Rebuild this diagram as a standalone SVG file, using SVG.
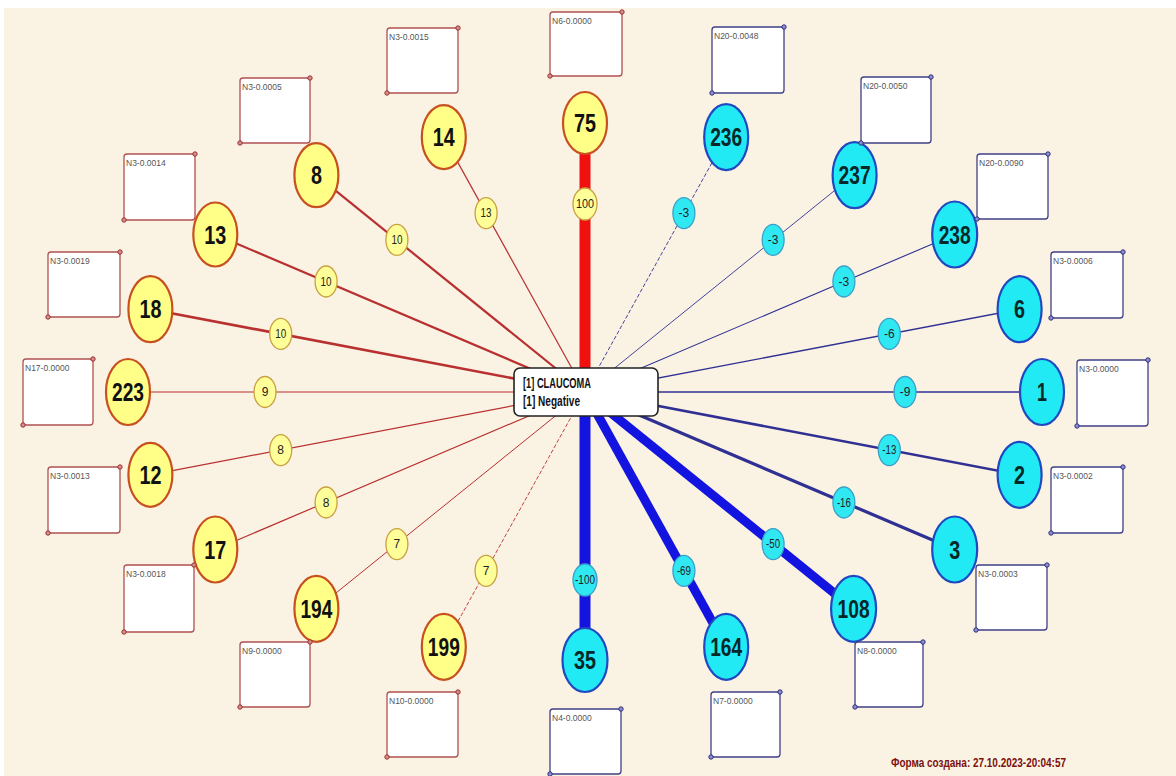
<svg xmlns="http://www.w3.org/2000/svg" width="1176" height="776" viewBox="0 0 1176 776">
<style>
.ln{fill:none;stroke:#B83030}
.lb{fill:none;stroke:#303094}
.lbt{fill:none;stroke:#1414E0}
.ny{fill:#FFFF88;stroke:#C8501E;stroke-width:2.2}
.nc{fill:#22EAF4;stroke:#2048C0;stroke-width:2.2}
.sy{fill:#FFFF99;stroke:#C8A040;stroke-width:1.3}
.sc{fill:#30E8F2;stroke:#3AA0C8;stroke-width:1.3}
.big{font-family:"Liberation Sans Narrow","Liberation Sans",Arial,sans-serif;font-weight:bold;font-size:25px;text-anchor:middle;fill:#111}
.bigc{fill:#062828}
.sm{font-family:"Liberation Sans Narrow","Liberation Sans",Arial,sans-serif;font-size:12px;text-anchor:middle;fill:#222}
.bxr{fill:#FFFFFF;stroke:#B05050;stroke-width:1.3}
.bxb{fill:#FFFFFF;stroke:#404088;stroke-width:1.3}
.dr{fill:#D09090;stroke:#A03030;stroke-width:1}
.db{fill:#9090D0;stroke:#303080;stroke-width:1}
.bt{font-family:"Liberation Sans",Arial,sans-serif;font-size:8.5px;fill:#555}
.ct{font-family:"Liberation Sans Narrow","Liberation Sans",Arial,sans-serif;font-weight:bold;font-size:14px;fill:#111}
</style>
<rect x="0" y="0" width="1176" height="776" fill="#FFFFFF"/>
<rect x="4" y="8" width="1172" height="768" fill="#FAF3E3"/>

<g id="connectors">
<line class="ln" x1="585" y1="392" x2="443.8" y2="137.1" stroke-width="1.2"/>
<line class="ln" x1="585" y1="392" x2="316.4" y2="175.2" stroke-width="2.2"/>
<line class="ln" x1="585" y1="392" x2="215.3" y2="234.5" stroke-width="2.2"/>
<line class="ln" x1="585" y1="392" x2="150.4" y2="309.2" stroke-width="2.6"/>
<line class="ln" x1="585" y1="392" x2="128" y2="392" stroke-width="1.2"/>
<line class="ln" x1="585" y1="392" x2="150.4" y2="474.8" stroke-width="1.2"/>
<line class="ln" x1="585" y1="392" x2="215.3" y2="549.5" stroke-width="1.2"/>
<line class="ln" x1="585" y1="392" x2="316.4" y2="608.8" stroke-width="1"/>
<line class="ln" x1="585" y1="392" x2="443.8" y2="646.9" stroke-width="0.9" stroke-dasharray="4 2"/>
<line x1="585" y1="392" x2="585" y2="124" stroke="#F01010" stroke-width="11"/>
<line class="lb" x1="585" y1="392" x2="726.2" y2="137.1" stroke-width="0.9" stroke-dasharray="4 2"/>
<line class="lb" x1="585" y1="392" x2="853.6" y2="175.2" stroke-width="0.9"/>
<line class="lb" x1="585" y1="392" x2="954.7" y2="234.5" stroke-width="1.1"/>
<line class="lb" x1="585" y1="392" x2="1019.6" y2="309.2" stroke-width="1.4"/>
<line class="lb" x1="585" y1="392" x2="1042" y2="392" stroke-width="1.6"/>
<line class="lb" x1="585" y1="392" x2="1019.6" y2="474.8" stroke-width="2.6" stroke="#2626A8"/>
<line class="lb" x1="585" y1="392" x2="954.7" y2="549.5" stroke-width="3.2" stroke="#2020A8"/>
<line class="lbt" x1="585" y1="392" x2="853.6" y2="608.8" stroke-width="9"/>
<line class="lbt" x1="585" y1="392" x2="726.2" y2="646.9" stroke-width="9"/>
<line class="lbt" x1="585" y1="392" x2="585" y2="660" stroke-width="11"/>
</g>

<g id="weights">
<ellipse class="sy" cx="585" cy="204" rx="12" ry="16"/><text class="sm" x="585" y="208" textLength="18" lengthAdjust="spacingAndGlyphs">100</text>
<ellipse class="sy" cx="486.1" cy="213.2" rx="11" ry="15.5"/><text class="sm" x="486.1" y="217.2" textLength="11" lengthAdjust="spacingAndGlyphs">13</text>
<ellipse class="sy" cx="396.9" cy="239.9" rx="11" ry="15.5"/><text class="sm" x="396.9" y="243.9" textLength="11" lengthAdjust="spacingAndGlyphs">10</text>
<ellipse class="sy" cx="326.1" cy="281.5" rx="11" ry="15.5"/><text class="sm" x="326.1" y="285.5" textLength="11" lengthAdjust="spacingAndGlyphs">10</text>
<ellipse class="sy" cx="280.7" cy="333.9" rx="11" ry="15.5"/><text class="sm" x="280.7" y="337.9" textLength="11" lengthAdjust="spacingAndGlyphs">10</text>
<ellipse class="sy" cx="265" cy="392" rx="11" ry="15.5"/><text class="sm" x="265" y="396">9</text>
<ellipse class="sy" cx="280.7" cy="450.1" rx="11" ry="15.5"/><text class="sm" x="280.7" y="454.1">8</text>
<ellipse class="sy" cx="326.1" cy="502.5" rx="11" ry="15.5"/><text class="sm" x="326.1" y="506.5">8</text>
<ellipse class="sy" cx="396.9" cy="544.1" rx="11" ry="15.5"/><text class="sm" x="396.9" y="548.1">7</text>
<ellipse class="sy" cx="486.1" cy="570.8" rx="11" ry="15.5"/><text class="sm" x="486.1" y="574.8">7</text>
<ellipse class="sc" cx="683.9" cy="213.2" rx="11" ry="15.5"/><text class="sm" x="683.9" y="217.2">-3</text>
<ellipse class="sc" cx="773.1" cy="239.9" rx="11" ry="15.5"/><text class="sm" x="773.1" y="243.9">-3</text>
<ellipse class="sc" cx="843.9" cy="281.5" rx="11" ry="15.5"/><text class="sm" x="843.9" y="285.5">-3</text>
<ellipse class="sc" cx="889.3" cy="333.9" rx="11" ry="15.5"/><text class="sm" x="889.3" y="337.9">-6</text>
<ellipse class="sc" cx="905" cy="392" rx="11" ry="15.5"/><text class="sm" x="905" y="396">-9</text>
<ellipse class="sc" cx="889.3" cy="450.1" rx="11" ry="15.5"/><text class="sm" x="889.3" y="454.1" textLength="14" lengthAdjust="spacingAndGlyphs">-13</text>
<ellipse class="sc" cx="843.9" cy="502.5" rx="11" ry="15.5"/><text class="sm" x="843.9" y="506.5" textLength="14" lengthAdjust="spacingAndGlyphs">-16</text>
<ellipse class="sc" cx="773.1" cy="544.1" rx="11" ry="15.5"/><text class="sm" x="773.1" y="548.1" textLength="14" lengthAdjust="spacingAndGlyphs">-50</text>
<ellipse class="sc" cx="683.9" cy="570.8" rx="11" ry="15.5"/><text class="sm" x="683.9" y="574.8" textLength="14" lengthAdjust="spacingAndGlyphs">-69</text>
<ellipse class="sc" cx="585" cy="580" rx="12" ry="16"/><text class="sm" x="585" y="584" textLength="20" lengthAdjust="spacingAndGlyphs">-100</text>
</g>

<g id="center">
<rect x="514" y="368" width="144" height="48" rx="6" fill="#FFFFFF" stroke="#222" stroke-width="1.6"/>
<text class="ct" x="523" y="388" textLength="68" lengthAdjust="spacingAndGlyphs">[1] CLAUCOMA</text>
<text class="ct" x="523" y="406" textLength="57" lengthAdjust="spacingAndGlyphs">[1] Negative</text>
</g>

<g id="n75"><ellipse class="ny" cx="585" cy="123" rx="22" ry="31"/><text class="big" x="585" y="132" textLength="22" lengthAdjust="spacingAndGlyphs">75</text>
<rect class="bxr" x="550" y="12" width="72" height="64" rx="3"/><circle class="dr" cx="622" cy="12" r="2.2"/><circle class="dr" cx="550" cy="76" r="2.2"/><text class="bt" x="552" y="24">N6-0.0000</text></g>
<g id="n14"><ellipse class="ny" cx="443.8" cy="137.1" rx="22" ry="32"/><text class="big" x="443.8" y="146.1" textLength="22" lengthAdjust="spacingAndGlyphs">14</text>
<rect class="bxr" x="387" y="28" width="71" height="65" rx="3"/><circle class="dr" cx="458" cy="28" r="2.2"/><circle class="dr" cx="387" cy="93" r="2.2"/><text class="bt" x="389" y="40">N3-0.0015</text></g>
<g id="n8"><ellipse class="ny" cx="316.4" cy="175.2" rx="22" ry="32"/><text class="big" x="316.4" y="184.2" textLength="11" lengthAdjust="spacingAndGlyphs">8</text>
<rect class="bxr" x="240" y="78" width="70" height="65" rx="3"/><circle class="dr" cx="310" cy="78" r="2.2"/><circle class="dr" cx="240" cy="143" r="2.2"/><text class="bt" x="242" y="90">N3-0.0005</text></g>
<g id="n13"><ellipse class="ny" cx="215.3" cy="234.5" rx="22" ry="32"/><text class="big" x="215.3" y="243.5" textLength="22" lengthAdjust="spacingAndGlyphs">13</text>
<rect class="bxr" x="124" y="154" width="71" height="66" rx="3"/><circle class="dr" cx="195" cy="154" r="2.2"/><circle class="dr" cx="124" cy="220" r="2.2"/><text class="bt" x="126" y="166">N3-0.0014</text></g>
<g id="n18"><ellipse class="ny" cx="150.4" cy="309.2" rx="22" ry="33"/><text class="big" x="150.4" y="318.2" textLength="22" lengthAdjust="spacingAndGlyphs">18</text>
<rect class="bxr" x="48" y="252" width="72" height="65" rx="3"/><circle class="dr" cx="120" cy="252" r="2.2"/><circle class="dr" cx="48" cy="317" r="2.2"/><text class="bt" x="50" y="264">N3-0.0019</text></g>
<g id="n223"><ellipse class="ny" cx="128" cy="392" rx="22" ry="33"/><text class="big" x="128" y="401" textLength="32" lengthAdjust="spacingAndGlyphs">223</text>
<rect class="bxr" x="23" y="359" width="70" height="66" rx="3"/><circle class="dr" cx="93" cy="359" r="2.2"/><circle class="dr" cx="23" cy="425" r="2.2"/><text class="bt" x="25" y="371">N17-0.0000</text></g>
<g id="n12"><ellipse class="ny" cx="150.4" cy="474.8" rx="22" ry="32"/><text class="big" x="150.4" y="483.8" textLength="22" lengthAdjust="spacingAndGlyphs">12</text>
<rect class="bxr" x="48" y="467" width="72" height="66" rx="3"/><circle class="dr" cx="120" cy="467" r="2.2"/><circle class="dr" cx="48" cy="533" r="2.2"/><text class="bt" x="50" y="479">N3-0.0013</text></g>
<g id="n17"><ellipse class="ny" cx="215.3" cy="549.5" rx="22" ry="33"/><text class="big" x="215.3" y="558.5" textLength="22" lengthAdjust="spacingAndGlyphs">17</text>
<rect class="bxr" x="124" y="565" width="70" height="67" rx="3"/><circle class="dr" cx="194" cy="565" r="2.2"/><circle class="dr" cx="124" cy="632" r="2.2"/><text class="bt" x="126" y="577">N3-0.0018</text></g>
<g id="n194"><ellipse class="ny" cx="316.4" cy="608.8" rx="22" ry="33"/><text class="big" x="316.4" y="617.8" textLength="32" lengthAdjust="spacingAndGlyphs">194</text>
<rect class="bxr" x="240" y="642" width="70" height="65" rx="3"/><circle class="dr" cx="310" cy="642" r="2.2"/><circle class="dr" cx="240" cy="707" r="2.2"/><text class="bt" x="242" y="654">N9-0.0000</text></g>
<g id="n199"><ellipse class="ny" cx="443.8" cy="646.9" rx="22" ry="33"/><text class="big" x="443.8" y="655.9" textLength="32" lengthAdjust="spacingAndGlyphs">199</text>
<rect class="bxr" x="387" y="692" width="71" height="65" rx="3"/><circle class="dr" cx="458" cy="692" r="2.2"/><circle class="dr" cx="387" cy="757" r="2.2"/><text class="bt" x="389" y="704">N10-0.0000</text></g>

<g id="n236"><ellipse class="nc" cx="726.2" cy="137.1" rx="22" ry="33"/><text class="big bigc" x="726.2" y="146.1" textLength="32" lengthAdjust="spacingAndGlyphs">236</text>
<rect class="bxb" x="712" y="27" width="72" height="66" rx="3"/><circle class="db" cx="784" cy="27" r="2.2"/><circle class="db" cx="712" cy="93" r="2.2"/><text class="bt" x="714" y="39">N20-0.0048</text></g>
<g id="n237"><ellipse class="nc" cx="854.6" cy="175.2" rx="22" ry="33"/><text class="big bigc" x="854.6" y="184.2" textLength="32" lengthAdjust="spacingAndGlyphs">237</text>
<rect class="bxb" x="861" y="77" width="70" height="66" rx="3"/><circle class="db" cx="931" cy="77" r="2.2"/><circle class="db" cx="861" cy="143" r="2.2"/><text class="bt" x="863" y="89">N20-0.0050</text></g>
<g id="n238"><ellipse class="nc" cx="954.7" cy="234.5" rx="22.5" ry="33"/><text class="big bigc" x="954.7" y="243.5" textLength="32" lengthAdjust="spacingAndGlyphs">238</text>
<rect class="bxb" x="977" y="154" width="71" height="65" rx="3"/><circle class="db" cx="1048" cy="154" r="2.2"/><circle class="db" cx="977" cy="219" r="2.2"/><text class="bt" x="979" y="166">N20-0.0090</text></g>
<g id="n6"><ellipse class="nc" cx="1019.6" cy="309.2" rx="22" ry="33"/><text class="big bigc" x="1019.6" y="318.2" textLength="11" lengthAdjust="spacingAndGlyphs">6</text>
<rect class="bxb" x="1051" y="252" width="72" height="66" rx="3"/><circle class="db" cx="1123" cy="252" r="2.2"/><circle class="db" cx="1051" cy="318" r="2.2"/><text class="bt" x="1053" y="264">N3-0.0006</text></g>
<g id="n1"><ellipse class="nc" cx="1042" cy="392" rx="22" ry="33"/><text class="big bigc" x="1042" y="401" textLength="10" lengthAdjust="spacingAndGlyphs">1</text>
<rect class="bxb" x="1077" y="360" width="71" height="66" rx="3"/><circle class="db" cx="1148" cy="360" r="2.2"/><circle class="db" cx="1077" cy="426" r="2.2"/><text class="bt" x="1079" y="372">N3-0.0000</text></g>
<g id="n2"><ellipse class="nc" cx="1019.6" cy="474.8" rx="22" ry="33"/><text class="big bigc" x="1019.6" y="483.8" textLength="11" lengthAdjust="spacingAndGlyphs">2</text>
<rect class="bxb" x="1051" y="467" width="72" height="66" rx="3"/><circle class="db" cx="1123" cy="467" r="2.2"/><circle class="db" cx="1051" cy="533" r="2.2"/><text class="bt" x="1053" y="479">N3-0.0002</text></g>
<g id="n3"><ellipse class="nc" cx="954.7" cy="549.5" rx="22.5" ry="33"/><text class="big bigc" x="954.7" y="558.5" textLength="11" lengthAdjust="spacingAndGlyphs">3</text>
<rect class="bxb" x="976" y="565" width="71" height="65" rx="3"/><circle class="db" cx="1047" cy="565" r="2.2"/><circle class="db" cx="976" cy="630" r="2.2"/><text class="bt" x="978" y="577">N3-0.0003</text></g>
<g id="n108"><ellipse class="nc" cx="853.6" cy="608.8" rx="22.5" ry="33"/><text class="big bigc" x="853.6" y="617.8" textLength="32" lengthAdjust="spacingAndGlyphs">108</text>
<rect class="bxb" x="855" y="642" width="68" height="65" rx="3"/><circle class="db" cx="923" cy="642" r="2.2"/><circle class="db" cx="855" cy="707" r="2.2"/><text class="bt" x="857" y="654">N8-0.0000</text></g>
<g id="n164"><ellipse class="nc" cx="726.2" cy="646.9" rx="22" ry="33"/><text class="big bigc" x="726.2" y="655.9" textLength="32" lengthAdjust="spacingAndGlyphs">164</text>
<rect class="bxb" x="711" y="692" width="69" height="65" rx="3"/><circle class="db" cx="780" cy="692" r="2.2"/><circle class="db" cx="711" cy="757" r="2.2"/><text class="bt" x="713" y="704">N7-0.0000</text></g>
<g id="n35"><ellipse class="nc" cx="585" cy="660" rx="22.5" ry="32"/><text class="big bigc" x="585" y="669" textLength="22" lengthAdjust="spacingAndGlyphs">35</text>
<rect class="bxb" x="550" y="709" width="71" height="65" rx="3"/><circle class="db" cx="621" cy="709" r="2.2"/><circle class="db" cx="550" cy="774" r="2.2"/><text class="bt" x="552" y="721">N4-0.0000</text></g>

<text x="891" y="767" font-family="'Liberation Sans Narrow','Liberation Sans',Arial,sans-serif" font-weight="bold" font-size="13" fill="#7A1010" textLength="175" lengthAdjust="spacingAndGlyphs">Форма создана: 27.10.2023-20:04:57</text>
</svg>
